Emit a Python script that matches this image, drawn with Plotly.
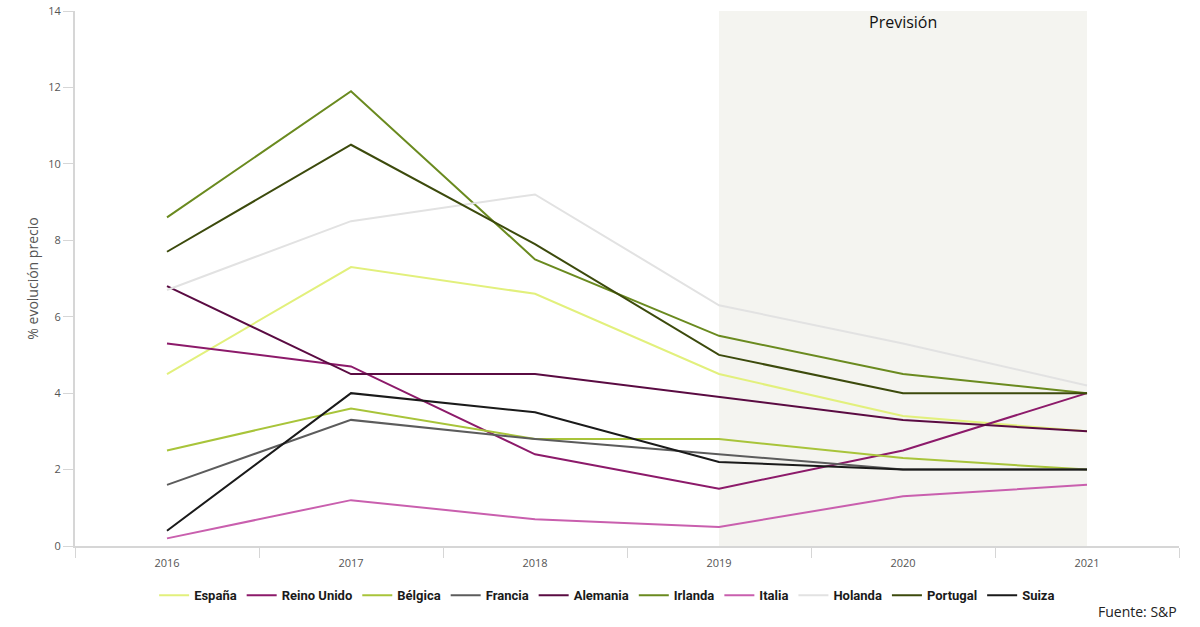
import plotly.graph_objects as go

years = ["2016", "2017", "2018", "2019", "2020", "2021"]

espana = [4.5, 7.3, 6.6, 4.5, 3.4, 3.0]
reino_unido = [5.3, 4.7, 2.4, 1.5, 2.5, 4.0]
belgica = [2.5, 3.6, 2.8, 2.8, 2.3, 2.0]
francia = [1.6, 3.3, 2.8, 2.4, 2.0, 2.0]
alemania = [6.8, 4.5, 4.5, 3.9, 3.3, 3.0]
irlanda = [8.6, 11.9, 7.5, 5.5, 4.5, 4.0]
italia = [0.2, 1.2, 0.7, 0.5, 1.3, 1.6]
holanda = [6.7, 8.5, 9.2, 6.3, 5.3, 4.2]
portugal = [7.7, 10.5, 7.9, 5.0, 4.0, 4.0]
suiza = [0.4, 4.0, 3.5, 2.2, 2.0, 2.0]

series = [
    ("España", espana, "#e2f07c"),
    ("Reino Unido", reino_unido, "#8c1a6a"),
    ("Bélgica", belgica, "#a8c43a"),
    ("Francia", francia, "#5c5c5c"),
    ("Alemania", alemania, "#5a0b42"),
    ("Irlanda", irlanda, "#6a8a1f"),
    ("Italia", italia, "#c95fae"),
    ("Holanda", holanda, "#e2e2e2"),
    ("Portugal", portugal, "#3c4a0c"),
    ("Suiza", suiza, "#1a1a1a"),
]

fig = go.Figure()
for name, vals, color in series:
    fig.add_trace(go.Scatter(x=years, y=vals, name=name, mode="lines",
                             line=dict(color=color, width=2)))

fig.add_shape(type="rect", xref="x", yref="paper", x0=3, x1=5, y0=0, y1=1,
              fillcolor="#f4f4f0", line=dict(width=0), layer="below")

fig.add_annotation(text="Previsión", xref="x", yref="paper", x=4, y=1,
                   yanchor="top", yshift=2, showarrow=False,
                   font=dict(size=16, color="#111111", family="Open Sans"))
fig.add_annotation(text="Fuente: S&P", xref="paper", yref="paper", x=1.0, y=-0.123,
                   xanchor="right", yanchor="middle", showarrow=False,
                   font=dict(size=14, color="#222222", family="Open Sans"))

fig.update_layout(
    width=1200, height=627,
    margin=dict(l=75, r=21, t=11, b=81, autoexpand=False),
    plot_bgcolor="white", paper_bgcolor="white",
    font=dict(family="Open Sans", color="#555555"),
    showlegend=True,
    legend=dict(orientation="h", x=0.482, xanchor="center", y=-0.092, yanchor="middle",
                font=dict(size=13, color="#1a1a1a", family="Roboto", weight="bold"),
                itemwidth=30, tracegroupgap=0),
    xaxis=dict(type="category", range=[-0.5, 5.5], showgrid=False,
               showline=True, linecolor="#d6d6d6", linewidth=2,
               ticks="outside", tickson="boundaries", ticklen=10, tickcolor="#d6d6d6",
               tickfont=dict(size=11, color="#555555"), ticklabelstandoff=6),
    yaxis=dict(range=[0, 14], dtick=2, showgrid=False, zeroline=False,
               showline=True, linecolor="#d6d6d6", linewidth=2,
               ticks="outside", ticklen=10, tickcolor="#d6d6d6",
               tickfont=dict(size=11, color="#555555"), ticklabeloverflow="allow",
               title=dict(text="% evolución precio", font=dict(size=14, color="#555555"),
                          standoff=6)),
    hovermode=False,
)

fig.write_html("out.html", config={"displayModeBar": False},
               post_script="document.body.style.margin='0';document.body.style.padding='0';")
